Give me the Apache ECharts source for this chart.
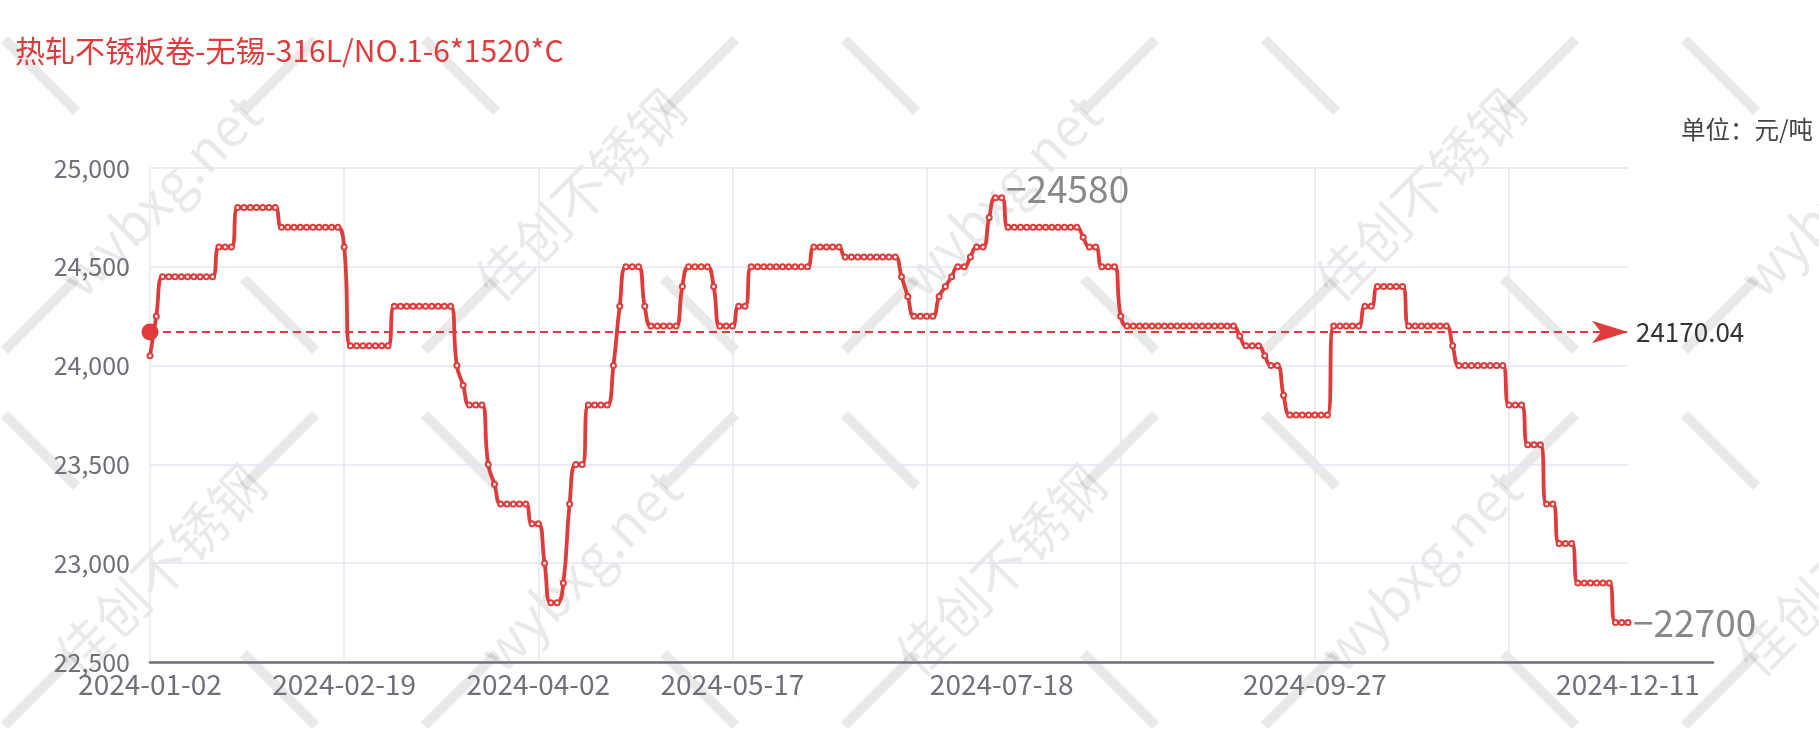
<!DOCTYPE html>
<html>
<head>
<meta charset="utf-8">
<script src="https://cdn.jsdelivr.net/npm/echarts@6/dist/echarts.min.js"></script>
<style>
html,body{margin:0;padding:0;background:#fff;}
#chart{width:1819px;height:733px;}
</style>
</head>
<body>
<div id="chart"></div>
<script>
const titleText = '热轧不锈板卷-无锡-316L/NO.1-6*1520*C';
const unitText = '单位：元/吨';
const peakLabel = '24580';

const categories = [
'2024-01-02','2024-01-03','2024-01-04','2024-01-05','2024-01-08','2024-01-09','2024-01-10','2024-01-11','2024-01-12','2024-01-15',
'2024-01-16','2024-01-17','2024-01-18','2024-01-19','2024-01-22','2024-01-23','2024-01-24','2024-01-25','2024-01-26','2024-01-29',
'2024-01-30','2024-01-31','2024-02-01','2024-02-02','2024-02-04','2024-02-05','2024-02-06','2024-02-07','2024-02-08','2024-02-09',
'2024-02-18','2024-02-19','2024-02-20','2024-02-21','2024-02-22','2024-02-23','2024-02-26','2024-02-27','2024-02-28','2024-02-29',
'2024-03-01','2024-03-04','2024-03-05','2024-03-06','2024-03-07','2024-03-08','2024-03-11','2024-03-12','2024-03-13','2024-03-14',
'2024-03-15','2024-03-18','2024-03-19','2024-03-20','2024-03-21','2024-03-22','2024-03-25','2024-03-26','2024-03-27','2024-03-28',
'2024-03-29','2024-04-01','2024-04-02','2024-04-03','2024-04-07','2024-04-08','2024-04-09','2024-04-10','2024-04-11','2024-04-12',
'2024-04-15','2024-04-16','2024-04-17','2024-04-18','2024-04-19','2024-04-22','2024-04-23','2024-04-24','2024-04-25','2024-04-26',
'2024-04-28','2024-04-29','2024-04-30','2024-05-06','2024-05-07','2024-05-08','2024-05-09','2024-05-10','2024-05-11','2024-05-13',
'2024-05-14','2024-05-15','2024-05-16','2024-05-17','2024-05-20','2024-05-21','2024-05-22','2024-05-23','2024-05-24','2024-05-27',
'2024-05-28','2024-05-29','2024-05-30','2024-05-31','2024-06-03','2024-06-04','2024-06-05','2024-06-06','2024-06-07','2024-06-11',
'2024-06-12','2024-06-13','2024-06-14','2024-06-17','2024-06-18','2024-06-19','2024-06-20','2024-06-21','2024-06-24','2024-06-25',
'2024-06-26','2024-06-27','2024-06-28','2024-07-01','2024-07-02','2024-07-03','2024-07-04','2024-07-05','2024-07-08','2024-07-09',
'2024-07-10','2024-07-11','2024-07-12','2024-07-15','2024-07-16','2024-07-17','2024-07-18','2024-07-19','2024-07-22','2024-07-23',
'2024-07-24','2024-07-25','2024-07-26','2024-07-29','2024-07-30','2024-07-31','2024-08-01','2024-08-02','2024-08-05','2024-08-06',
'2024-08-07','2024-08-08','2024-08-09','2024-08-12','2024-08-13','2024-08-14','2024-08-15','2024-08-16','2024-08-19','2024-08-20',
'2024-08-21','2024-08-22','2024-08-23','2024-08-26','2024-08-27','2024-08-28','2024-08-29','2024-08-30','2024-09-02','2024-09-03',
'2024-09-04','2024-09-05','2024-09-06','2024-09-09','2024-09-10','2024-09-11','2024-09-12','2024-09-13','2024-09-14','2024-09-18',
'2024-09-19','2024-09-20','2024-09-23','2024-09-24','2024-09-25','2024-09-26','2024-09-27','2024-09-29','2024-09-30','2024-10-08',
'2024-10-09','2024-10-10','2024-10-11','2024-10-12','2024-10-14','2024-10-15','2024-10-16','2024-10-17','2024-10-18','2024-10-21',
'2024-10-22','2024-10-23','2024-10-24','2024-10-25','2024-10-28','2024-10-29','2024-10-30','2024-10-31','2024-11-01','2024-11-04',
'2024-11-05','2024-11-06','2024-11-07','2024-11-08','2024-11-11','2024-11-12','2024-11-13','2024-11-14','2024-11-15','2024-11-18',
'2024-11-19','2024-11-20','2024-11-21','2024-11-22','2024-11-25','2024-11-26','2024-11-27','2024-11-28','2024-11-29','2024-12-02',
'2024-12-03','2024-12-04','2024-12-05','2024-12-06','2024-12-09','2024-12-10','2024-12-11'
];

const prices = [
24050,24250,24450,24450,24450,24450,24450,24450,24450,24450,
24450,24600,24600,24600,24800,24800,24800,24800,24800,24800,
24800,24700,24700,24700,24700,24700,24700,24700,24700,24700,
24700,24600,24100,24100,24100,24100,24100,24100,24100,24300,
24300,24300,24300,24300,24300,24300,24300,24300,24300,24000,
23900,23800,23800,23800,23500,23400,23300,23300,23300,23300,
23300,23200,23200,23000,22800,22800,22900,23300,23500,23500,
23800,23800,23800,23800,24000,24300,24500,24500,24500,24300,
24200,24200,24200,24200,24200,24400,24500,24500,24500,24500,
24400,24200,24200,24200,24300,24300,24500,24500,24500,24500,
24500,24500,24500,24500,24500,24500,24600,24600,24600,24600,
24600,24550,24550,24550,24550,24550,24550,24550,24550,24550,
24450,24350,24250,24250,24250,24250,24350,24400,24450,24500,
24500,24550,24600,24600,24750,24850,24850,24700,24700,24700,
24700,24700,24700,24700,24700,24700,24700,24700,24700,24650,
24600,24600,24500,24500,24500,24250,24200,24200,24200,24200,
24200,24200,24200,24200,24200,24200,24200,24200,24200,24200,
24200,24200,24200,24200,24150,24100,24100,24100,24050,24000,
24000,23850,23750,23750,23750,23750,23750,23750,23750,24200,
24200,24200,24200,24200,24300,24300,24400,24400,24400,24400,
24400,24200,24200,24200,24200,24200,24200,24200,24100,24000,
24000,24000,24000,24000,24000,24000,24000,23800,23800,23800,
23600,23600,23600,23300,23300,23100,23100,23100,22900,22900,
22900,22900,22900,22900,22700,22700,22700
];

const xTickLabels = ['2024-01-02','2024-02-19','2024-04-02','2024-05-17','2024-07-18','2024-09-27','2024-12-11'];
const yMin = 22500, yMax = 25000, yStep = 500;

// watermark tiles (decoration only)
const watermarkTexts = ['wybxg.net', '佳创不锈钢'];
const watermarkCenters = [
  [160, 195, 0], [580, 195, 1], [1000, 195, 0], [1420, 195, 1], [1840, 195, 0],
  [160, 570, 1], [580, 570, 0], [1000, 570, 1], [1420, 570, 0], [1840, 570, 1],
  [160, -180, 1], [580, -180, 0], [1000, -180, 1], [1420, -180, 0],
  [160, 945, 0], [580, 945, 1], [1000, 945, 0], [1420, 945, 1], [1840, 945, 0]
];

const RED = '#e03b3b';
const FONT = '"Noto Sans CJK SC", "Noto Sans", sans-serif';
const WM = 'rgba(0,0,0,0.085)';

function wmGroup(c) {
  const r1 = 118, r2 = 220;
  const seg = (x1, y1, x2, y2) => ({type: 'line', silent: true,
    shape: {x1, y1, x2, y2}, style: {stroke: WM, lineWidth: 10}});
  return {
    type: 'group', x: c[0], y: c[1], rotation: Math.PI / 4, silent: true, z: -10,
    children: [
      {type: 'text', silent: true, style: {text: watermarkTexts[c[2]], fill: WM,
        fontSize: 54, fontFamily: FONT, align: 'center', verticalAlign: 'middle'}},
      seg(r1, 0, r2, 0), seg(-r1, 0, -r2, 0), seg(0, r1, 0, r2), seg(0, -r1, 0, -r2)
    ]
  };
}

const chart = echarts.init(document.getElementById('chart'), null, {renderer: 'canvas'});
chart.setOption({
  animation: false,
  backgroundColor: '#fff',
  textStyle: {fontFamily: FONT},
  graphic: watermarkCenters.map(wmGroup),
  title: [
    {text: titleText, left: 10, top: 31,
     textStyle: {color: RED, fontSize: 30, fontWeight: 'normal', fontFamily: FONT}},
    {text: unitText, right: 1, top: 112,
     textStyle: {color: '#444', fontSize: 24.5, fontWeight: 'normal', fontFamily: FONT}}
  ],
  grid: [
    {left: 150, right: 191, top: 168, bottom: 71},
    {left: 150, right: 106, top: 168, bottom: 71}
  ],
  xAxis: [
    {
      type: 'category', gridIndex: 0, data: categories, boundaryGap: false,
      axisLine: {show: false}, axisTick: {show: false},
      axisLabel: {
        interval: (i, v) => xTickLabels.indexOf(v) >= 0,
        color: '#6E7079', fontSize: 28, margin: 8, fontFamily: FONT
      },
      splitLine: {show: true, interval: 30, lineStyle: {color: '#E6E9EF', width: 1.5}}
    },
    {
      type: 'value', gridIndex: 1, min: 0, max: 1,
      axisLine: {show: true, onZero: false, lineStyle: {color: '#6E7079', width: 2.5}},
      axisTick: {show: false}, axisLabel: {show: false}, splitLine: {show: false}
    }
  ],
  yAxis: [
    {
      type: 'value', gridIndex: 0, min: yMin, max: yMax, interval: yStep,
      axisLine: {show: false}, axisTick: {show: false},
      axisLabel: {color: '#6E7079', fontSize: 25, margin: 20, fontFamily: FONT,
        formatter: v => v.toLocaleString('en-US')},
      splitLine: {lineStyle: {color: '#E0E6F1', width: 1.5}}
    },
    {type: 'value', gridIndex: 1, show: false}
  ],
  series: [{
    type: 'line',
    data: prices,
    smooth: true,
    symbol: 'emptyCircle',
    symbolSize: 5,
    showSymbol: true,
    showAllSymbol: true,
    lineStyle: {color: RED, width: 3.8},
    itemStyle: {color: RED, borderWidth: 1.5},
    endLabel: {show: true, formatter: p => '−' + p.value, color: '#888', fontSize: 37,
      distance: 5, fontFamily: FONT},
    markPoint: {
      symbol: 'circle', symbolSize: 1, silent: true,
      itemStyle: {color: 'rgba(0,0,0,0)'},
      label: {show: true, position: 'right', distance: 10, offset: [0, -9],
        formatter: () => '−' + peakLabel, color: '#888', fontSize: 37, fontFamily: FONT},
      data: [{type: 'max'}]
    },
    markLine: {
      silent: true,
      symbol: ['circle', 'arrow'],
      symbolSize: [17, 36],
      precision: 2,
      lineStyle: {color: RED, type: [8, 5], width: 2},
      label: {position: 'end', color: '#333', fontSize: 26, distance: 8, fontFamily: FONT},
      data: [{type: 'average'}]
    }
  }]
});
</script>
</body>
</html>
